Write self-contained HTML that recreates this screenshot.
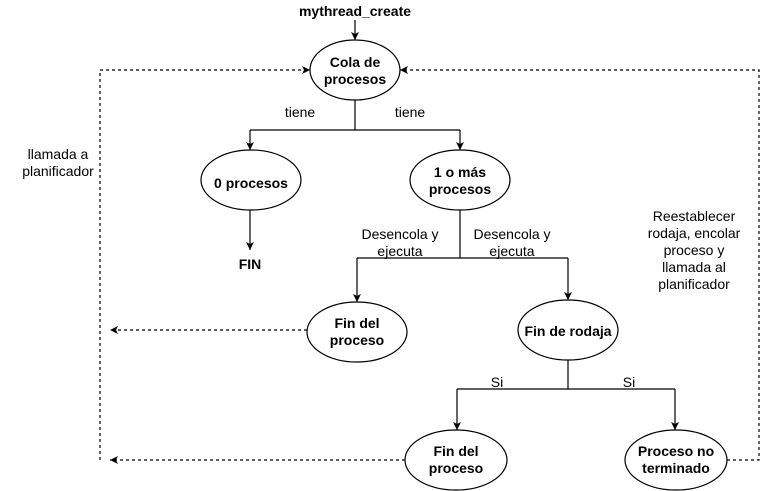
<!DOCTYPE html>
<html><head><style>body{margin:0;background:#fff}svg{display:block}text{font-family:"Liberation Sans",sans-serif;font-size:14px;fill:#000}.b{font-weight:bold}</style></head>
<body>
<svg width="769" height="491" viewBox="0 0 769 491" xmlns="http://www.w3.org/2000/svg">
<defs><marker id="a" markerWidth="10" markerHeight="10" refX="8" refY="5" orient="auto" markerUnits="userSpaceOnUse"><path d="M0,1 L8,5 L0,9 L2,5 z" fill="#000"/></marker></defs>
<g fill="none" stroke="#000" stroke-width="1.2">
<path d="M355,20 V40" marker-end="url(#a)"/>
<path d="M355,100 V130 M250,130 H460"/>
<path d="M250,130 V150" marker-end="url(#a)"/><path d="M460,130 V150" marker-end="url(#a)"/>
<path d="M250,210 V250" marker-end="url(#a)"/>
<path d="M460,210 V258 M357,258 H568"/>
<path d="M357,258 V302" marker-end="url(#a)"/><path d="M568,258 V300" marker-end="url(#a)"/>
<path d="M568,360 V389 M457,389 H675"/>
<path d="M457,389 V430" marker-end="url(#a)"/><path d="M675,389 V430" marker-end="url(#a)"/>
<g stroke-dasharray="3,3">
<path d="M307,330 H110" marker-end="url(#a)"/>
<path d="M405,460 H110" marker-end="url(#a)"/>
<path d="M100,460 V70 H310" marker-end="url(#a)"/>
<path d="M727,460 H759 V70 H400" marker-end="url(#a)"/>
</g>
<ellipse cx="355" cy="70" rx="45" ry="30"/>
<ellipse cx="251" cy="180" rx="50" ry="30"/>
<ellipse cx="460" cy="180" rx="50" ry="30"/>
<ellipse cx="357" cy="332" rx="50" ry="30"/>
<ellipse cx="568" cy="330" rx="50" ry="30"/>
<ellipse cx="456" cy="460" rx="51" ry="30"/>
<ellipse cx="676" cy="460" rx="51" ry="30"/>
</g>
<g text-anchor="middle">
<text x="355" y="16" class="b">mythread_create</text>
<text x="355" y="67" class="b">Cola de</text><text x="355" y="84" class="b">procesos</text>
<text x="251" y="188" class="b">0 procesos</text>
<text x="460" y="177" class="b">1 o más</text><text x="460" y="194" class="b">procesos</text>
<text x="250" y="269" class="b">FIN</text>
<text x="357" y="328" class="b">Fin del</text><text x="357" y="345" class="b">proceso</text>
<text x="568" y="336" class="b">Fin de rodaja</text>
<text x="456" y="456" class="b">Fin del</text><text x="456" y="473" class="b">proceso</text>
<text x="676" y="456" class="b">Proceso no</text><text x="676" y="473" class="b">terminado</text>
<text x="300" y="117">tiene</text><text x="410" y="117">tiene</text>
<text x="58" y="159">llamada a</text><text x="58" y="176">planificador</text>
<text x="400" y="239">Desencola y</text><text x="400" y="256">ejecuta</text>
<text x="512" y="239">Desencola y</text><text x="512" y="256">ejecuta</text>
<text x="694" y="221">Reestablecer</text><text x="694" y="238">rodaja, encolar</text><text x="694" y="255">proceso y</text><text x="694" y="272">llamada al</text><text x="694" y="289">planificador</text>
<text x="497" y="387">Si</text><text x="629" y="387">Si</text>
</g>
</svg>
</body></html>
